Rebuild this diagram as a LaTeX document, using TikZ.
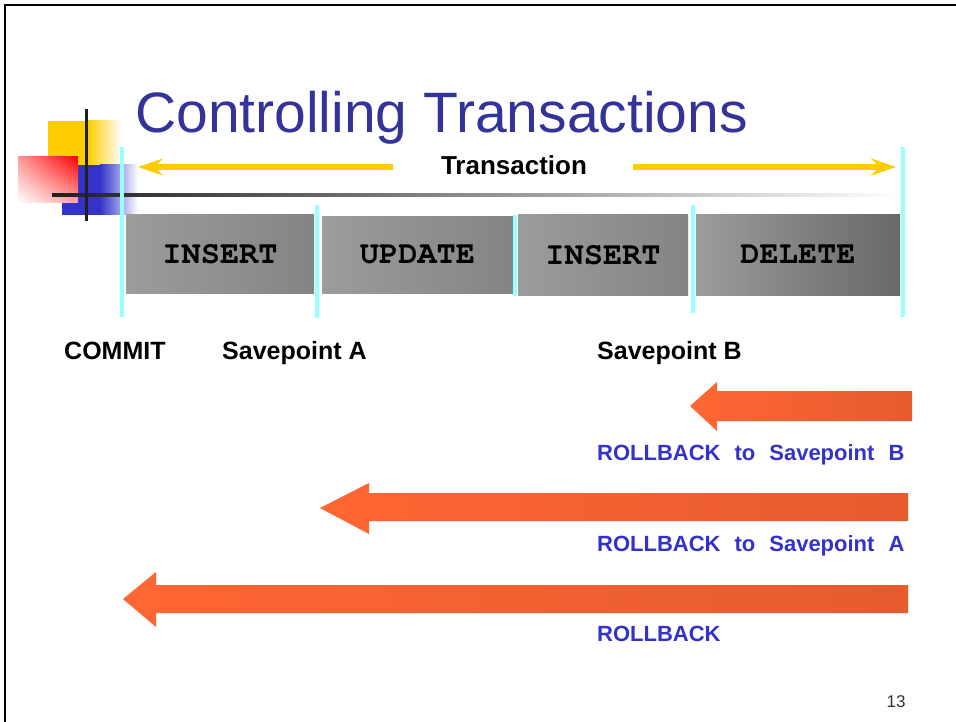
\documentclass[tikz,border=0pt]{standalone}
\usepackage[T1]{fontenc}
\usepackage{fontspec}
\setmainfont{Liberation Sans}
\setmonofont{Liberation Mono}
\usetikzlibrary{arrows.meta,shadings}

\definecolor{titleblue}{HTML}{333399}
\definecolor{labelblue}{HTML}{3333CC}
\definecolor{markcyan}{HTML}{99FFFF}
\definecolor{spanyellow}{HTML}{FFCC00}
\definecolor{rbLight}{HTML}{FF6633}
\definecolor{rbDark}{HTML}{E65C2E}
\definecolor{boxLight}{HTML}{9C9C9C}
\definecolor{boxDark}{HTML}{848484}
\definecolor{boxDarker}{HTML}{686868}
\definecolor{decoblue}{HTML}{3333CC}

% typewriter face with slab serifs for the SQL keywords
\newcommand{\sqlface}{\fontencoding{T1}\fontfamily{pcr}\fontseries{b}\fontsize{32}{36}\selectfont}

\begin{document}
\begin{tikzpicture}[x=1pt,y=-1pt,
  opbox/.style={inner sep=0pt, left color=boxLight, right color=boxDark,
    font=\sqlface, text=black},
  cyanmark/.style={draw=markcyan, line width=4.5pt},
  spanarrow/.style={draw=spanyellow, line width=6pt,
    -{Stealth[length=25pt,width=17pt,inset=9pt]}},
  pointlabel/.style={anchor=base west, inner sep=0pt,
    font=\fontsize{25}{30}\selectfont\bfseries},
  rblabel/.style={anchor=base west, inner sep=0pt, text=labelblue,
    font=\fontsize{22}{26}\selectfont\bfseries},
  rbarrow/.style={left color=rbLight, right color=rbDark}
]
\useasboundingbox (0,0) rectangle (956,722);
\fill[white] (0,0) rectangle (956,722);

% slide frame
\draw[line width=2.5pt] (5,722) -- (5,5) -- (956,5);

% corner ornament
\fill[spanyellow] (48,121) rectangle (88,165);
\shade[left color=spanyellow, right color=white] (88,121) rectangle (121,165);
\fill[decoblue] (62,165) rectangle (100,215);
\shade[left color=decoblue, right color=white] (100,165) rectangle (138,215);
\shade[upper right=red, lower left=white, upper left=red!40!white,
       lower right=red!35!white] (18,157) rectangle (78,203);
\shade[left color=black!88, right color=white] (52,193.5) rectangle (900,196.5);
\draw[black!88, line width=3pt] (86.5,109) -- (86.5,221);

% title
\node[anchor=base west, inner sep=0pt, text=titleblue,
      font=\fontsize{57}{64}\selectfont] (title) at (135,133) {Controlling Transactions};

% statement boxes
\node[opbox, minimum width=188pt, minimum height=78pt] (ins1) at (220,254) {INSERT};
\node[opbox, minimum width=191pt, minimum height=76pt] (upd) at (417.5,255) {UPDATE};
\node[opbox, minimum width=170pt, minimum height=80pt] (ins2) at (603,255) {INSERT};
\node[opbox, left color=boxLight, right color=boxDarker,
      minimum width=204pt, minimum height=80pt] (del) at (798,255) {DELETE};

% markers between statements
\coordinate (m0t) at (122,147);  \coordinate (m0b) at (122,317);
\coordinate (m1t) at (317,205);  \coordinate (m1b) at (317,318);
\coordinate (m2t) at (515,215);  \coordinate (m2b) at (515,296);
\coordinate (m3t) at (693,205);  \coordinate (m3b) at (693,313);
\coordinate (m4t) at (903,147);  \coordinate (m4b) at (903,317);
\foreach \m in {m0,m1,m2,m3,m4}
  \draw[cyanmark] (\m t) -- (\m b);

% transaction span
\node[anchor=base, inner sep=0pt, font=\fontsize{26}{30}\selectfont\bfseries]
  (trans) at (514,175) {Transaction};
\coordinate (spanL) at (393,167);
\coordinate (spanR) at (633,167);
\coordinate (tipL) at (138,167);
\coordinate (tipR) at (896,167);
\draw[spanarrow] (spanL) -- (tipL);
\draw[spanarrow] (spanR) -- (tipR);

% point labels
\node[pointlabel] (commit) at (64,359) {COMMIT};
\node[pointlabel] (spA) at (222,359) {Savepoint A};
\node[pointlabel] (spB) at (597,359) {Savepoint B};

% rollback block arrows
\shade[rbarrow] (912,391) -- (717,391) -- (717,382) -- (690,406)
  -- (717,431) -- (717,421) -- (912,421) -- cycle;
\shade[rbarrow] (908,493) -- (369,493) -- (369,483) -- (320,508)
  -- (369,534) -- (369,521) -- (908,521) -- cycle;
\shade[rbarrow] (908,585) -- (156,585) -- (156,572) -- (123,599)
  -- (156,627) -- (156,613) -- (908,613) -- cycle;

\node[rblabel] (rbB) at (597,460)
  {\spaceskip=14pt ROLLBACK to Savepoint B};
\node[rblabel] (rbA) at (597,551)
  {\spaceskip=14pt ROLLBACK to Savepoint A};
\node[rblabel] (rbAll) at (597,641) {ROLLBACK};

% page number
\node[anchor=base, inner sep=0pt, text=black!80,
      font=\fontsize{17}{20}\selectfont] (pageno) at (896,707) {13};
\end{tikzpicture}
\end{document}
